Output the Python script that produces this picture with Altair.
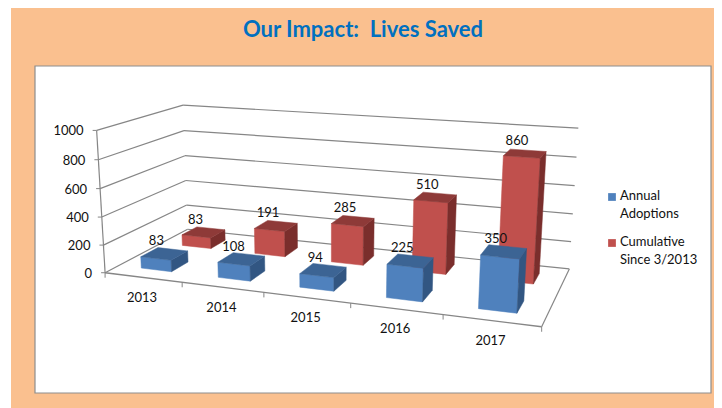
import altair as alt
import numpy as np
import pandas as pd

# ---- data ----
years = ["2013", "2014", "2015", "2016", "2017"]
annual = [83, 108, 94, 225, 350]
cumulative = [83, 191, 285, 510, 860]
y_ticks = [0, 200, 400, 600, 800, 1000]
legend_labels = ["Annual|Adoptions", "Cumulative|Since 3/2013"]
title_text = "Our Impact:\u00a0 Lives Saved"

BLUE = dict(front="#4F81BD", top="#3C6494", side="#325682")
RED = dict(front="#C0504D", top="#8E3A38", side="#7A2E2C")
ORANGE = "#FAC08F"
GRID = "#868686"
FONT = "Lato"

# ---- perspective camera: box (u along years, v depth, w value) to page pixels ----
calib = [
    ((0, 0, 0), (105, 272)), ((0, 0, 1), (96.7, 130.7)),
    ((0, 1, 0), (187.7, 230)), ((0, 1, 1), (183, 104.7)),
    ((1, 1, 0), (569.3, 268.3)), ((1, 1, 1), (578.3, 128.3)),
    ((1, 0, 0), (541.7, 327.3)),
]
rows = []
for (u, v, w), (px, py) in calib:
    rows.append([u, v, w, 1, 0, 0, 0, 0, -px * u, -px * v, -px * w, -px])
    rows.append([0, 0, 0, 0, u, v, w, 1, -py * u, -py * v, -py * w, -py])
P = np.linalg.svd(np.array(rows, dtype=float))[2][-1].reshape(3, 4)


def proj(u, v, w):
    a = P @ np.array([u, v, w, 1.0])
    return float(a[0] / a[2]), float(a[1] / a[2])


n = len(years)
BAR = 0.40  # share of category width
DEPTH = 0.20  # share of floor depth


def bar_faces(i, depth_center, value, colors, name):
    u0 = (i + 0.5 - BAR / 2) / n
    u1 = (i + 0.5 + BAR / 2) / n
    v0 = depth_center - DEPTH / 2
    v1 = depth_center + DEPTH / 2
    w = value / 1000
    faces = [
        ("front", [(u0, v0, 0), (u1, v0, 0), (u1, v0, w), (u0, v0, w)]),
        ("side", [(u1, v0, 0), (u1, v1, 0), (u1, v1, w), (u1, v0, w)]),
        ("top", [(u0, v0, w), (u1, v0, w), (u1, v1, w), (u0, v1, w)]),
    ]
    out = []
    for f, pts in faces:
        for k, p in enumerate(pts + pts[:1]):
            x, y = proj(*p)
            out.append(dict(poly=f"{name}{i}{f}", order=k, x=x, y=y, color=colors[f]))
    return out


polys_red, polys_blue, labels = [], [], []
for i in range(n):
    polys_red += bar_faces(i, 0.75, cumulative[i], RED, "r")
    polys_blue += bar_faces(i, 0.25, annual[i], BLUE, "b")
    for val, dc in ((annual[i], 0.25), (cumulative[i], 0.75)):
        x, y = proj((i + 0.5) / n, dc, val / 1000)
        labels.append(dict(x=x - 8, y=y - 12.5, t=str(val)))

segs = []


def seg(a, b, color=GRID, width=1.2):
    (x, y), (x2, y2) = proj(*a), proj(*b)
    segs.append(dict(x=x, y=y, x2=x2, y2=y2, c=color, s=width))


for t in y_ticks:
    w = t / 1000
    seg((0, 0, w), (0, 1, w))
    seg((0, 1, w), (1, 1, w))
    x, y = proj(0, 0, w)
    segs.append(dict(x=x - 4, y=y, x2=x, y2=y, c=GRID, s=1.0))
seg((0, 0, 0), (0, 0, 1))
seg((0, 0, 0), (1, 0, 0), width=1.4)
seg((1, 0, 0), (1, 1, 0))
for i in range(n + 1):
    x, y = proj(i / n, 0, 0)
    segs.append(dict(x=x, y=y, x2=x, y2=y + 5, c=GRID, s=1.0))

ytext = []
for t in y_ticks:
    x, y = proj(0, 0, t / 1000)
    ytext.append(dict(x=x - 13, y=y + 1, t=str(t)))
xtext = []
for i, yr in enumerate(years):
    x, y = proj((i + 0.5) / n, 0, 0)
    xtext.append(dict(x=x - 1, y=y + 20.5, t=yr))

# ---- page-pixel scales ----
X = alt.X("x:Q", scale=alt.Scale(domain=[8, 714], range=[0, 706]), axis=None)
Y = alt.Y("y:Q", scale=alt.Scale(domain=[8, 408], range=[0, 400]), axis=None)
X2, Y2 = alt.X2("x2:Q"), alt.Y2("y2:Q")


def poly_layer(rows_):
    return alt.Chart(pd.DataFrame(rows_)).mark_line(strokeWidth=0.5).encode(
        x=X, y=Y, detail="poly:N", order="order:Q",
        fill=alt.Fill("color:N", scale=None),
        stroke=alt.Stroke("color:N", scale=None),
    )


def text_layer(rows_, **kw):
    return alt.Chart(pd.DataFrame(rows_)).mark_text(font=FONT, fontSize=13, color="#111111", **kw).encode(
        x=X, y=Y, text="t:N"
    )


bg = alt.Chart(pd.DataFrame([dict(x=11, x2=714, y=8, y2=408)])).mark_rect(color=ORANGE).encode(x=X, x2=X2, y=Y, y2=Y2)
panel = alt.Chart(pd.DataFrame([dict(x=35, x2=711, y=66, y2=393)])).mark_rect(
    fill="white", stroke="#8E8E8E", strokeWidth=1.2
).encode(x=X, x2=X2, y=Y, y2=Y2)
rules = alt.Chart(pd.DataFrame(segs)).mark_rule().encode(
    x=X, x2=X2, y=Y, y2=Y2,
    color=alt.Color("c:N", scale=None),
    strokeWidth=alt.StrokeWidth("s:Q", scale=None),
)
title = alt.Chart(pd.DataFrame([dict(x=363, y=30, t=title_text)])).mark_text(
    font=FONT, fontSize=22, fontWeight="bold", color="#0070C0"
).encode(x=X, y=Y, text="t:N")

leg = pd.DataFrame([
    dict(x=612, y=197, lx=620, ly=190, t=legend_labels[0], c=BLUE["front"]),
    dict(x=612, y=243, lx=620, ly=236, t=legend_labels[1], c=RED["front"]),
])
leg_sq = alt.Chart(leg).mark_square(size=60, opacity=1).encode(x=X, y=Y, color=alt.Color("c:N", scale=None))
leg_tx = alt.Chart(leg).mark_text(
    font=FONT, fontSize=13, color="#111111", align="left", baseline="top", lineBreak="|", lineHeight=18
).encode(
    x=alt.X("lx:Q", scale=alt.Scale(domain=[8, 714], range=[0, 706]), axis=None),
    y=alt.Y("ly:Q", scale=alt.Scale(domain=[8, 408], range=[0, 400]), axis=None),
    text="t:N",
)

chart = alt.layer(
    bg, panel, rules, poly_layer(polys_red), poly_layer(polys_blue),
    text_layer(labels), text_layer(ytext, align="right"), text_layer(xtext),
    title, leg_sq, leg_tx,
).resolve_scale(x="shared", y="shared").properties(
    width=706, height=400, padding=0,
    autosize=alt.AutoSizeParams(type="none"),
    background="transparent",
).configure_view(stroke=None)

chart.save("out.html", embed_options={"renderer": "svg", "actions": False})
